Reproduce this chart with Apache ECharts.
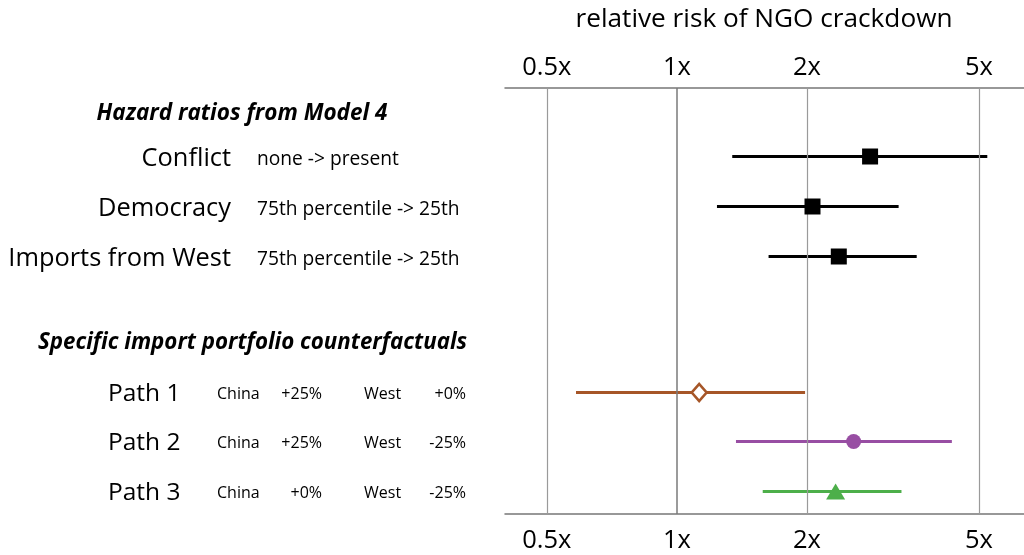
<!DOCTYPE html>
<html>
<head>
<meta charset="utf-8">
<script src="https://cdn.jsdelivr.net/npm/echarts@6/dist/echarts.min.js"></script>
<style>
html,body{margin:0;padding:0;background:#fff;}
#chart{width:1024px;height:555px;}
</style>
</head>
<body>
<div id="chart"></div>
<script>
// ---- data ----
const hazardLabels = ['Conflict', 'Democracy', 'Imports from West'];
const hazardDesc = ['none -> present', '75th percentile -> 25th', '75th percentile -> 25th'];
const hazardEst = [2.80, 2.06, 2.37];
const hazardLo = [1.343, 1.238, 1.63];
const hazardHi = [5.23, 3.26, 3.59];

const pathLabels = ['Path 1', 'Path 2', 'Path 3'];
const chinaChange = ['+25%', '+25%', '+0%'];
const westChange = ['+0%', '-25%', '-25%'];
const pathEst = [1.126, 2.565, 2.33];
const pathLo = [0.584, 1.37, 1.58];
const pathHi = [1.98, 4.33, 3.31];

const tickValues = [0.5, 1, 2, 5];
const axisTitle = 'relative risk of NGO crackdown';
const header1 = 'Hazard ratios from Model 4';
const header2 = 'Specific import portfolio counterfactuals';

// ---- layout (not data) ----
const hazardRows = [1.37, 2.37, 3.37];
const pathRows = [6.09, 7.07, 8.07];
const pathColors = ['#A65628', '#984EA3', '#4DAF4A'];
const FONT = 'Open Sans';

const chart = echarts.init(document.getElementById('chart'));

const series = [];
// gridlines via markLine
series.push({
  type: 'line', data: [], z: 0, silent: true,
  markLine: {
    silent: true, symbol: 'none', label: {show: false},
    data: tickValues.map(v => ({xAxis: v, lineStyle: {color: v === 1 ? '#7a7a7a' : '#9a9a9a', width: v === 1 ? 1.5 : 1.2, type: 'solid'}}))
  }
});
hazardLabels.forEach((n, i) => {
  series.push({
    type: 'line', z: 3, silent: true, symbol: 'none',
    lineStyle: {color: '#000', width: 3},
    data: [[hazardLo[i], hazardRows[i]], [hazardHi[i], hazardRows[i]]]
  });
  series.push({
    type: 'scatter', z: 5, silent: true, symbol: 'rect', symbolSize: 16,
    itemStyle: {color: '#000', opacity: 1},
    data: [[hazardEst[i], hazardRows[i]]]
  });
});
const pathSymbols = ['diamond', 'circle', 'triangle'];
const pathSizes = [[15, 17], 15, [19, 16]];
pathLabels.forEach((n, i) => {
  series.push({
    type: 'line', z: 3, silent: true, symbol: 'none',
    lineStyle: {color: pathColors[i], width: 3},
    data: [[pathLo[i], pathRows[i]], [pathHi[i], pathRows[i]]]
  });
  const item = i === 0
    ? {color: '#fff', borderColor: pathColors[i], borderWidth: 2.5, opacity: 1}
    : {color: pathColors[i], opacity: 1};
  series.push({
    type: 'scatter', z: 5, silent: true, symbol: pathSymbols[i], symbolSize: pathSizes[i],
    itemStyle: item,
    data: [[pathEst[i], pathRows[i]]]
  });
});

const xCommon = {
  type: 'log', logBase: 10, min: 0.4, max: 6.36,
  axisLine: {show: true, lineStyle: {color: '#777', width: 1.5}},
  axisTick: {show: false},
  splitLine: {show: false},
  axisLabel: {
    customValues: tickValues, fontFamily: FONT, fontSize: 25.5, color: '#000',
    formatter: v => v + 'x'
  }
};

chart.setOption({
  animation: false,
  backgroundColor: '#fff',
  grid: {left: 505, right: 0, top: 88, bottom: 41, containLabel: false},
  xAxis: [
    Object.assign({}, xCommon, {position: 'top', axisLabel: Object.assign({}, xCommon.axisLabel, {margin: 7})}),
    Object.assign({}, xCommon, {position: 'bottom', axisLabel: Object.assign({}, xCommon.axisLabel, {margin: 14})})
  ],
  yAxis: {type: 'value', inverse: true, min: 0, max: 8.52, show: false},
  series: series
});

// ---- text annotations positioned from the y scale ----
const yPix = v => chart.convertToPixel({yAxisIndex: 0}, v);
const gText = (text, x, y, opt) => ({
  type: 'text', x: x, y: y, silent: true,
  style: Object.assign({text: text, fontFamily: FONT, fontSize: 24, fill: '#000', textVerticalAlign: 'middle', verticalAlign: 'middle'}, opt)
});
const els = [];
els.push(gText(axisTitle, 764, 20, {align: 'center', fontSize: 26.2}));
els.push(gText(header1, 242, 114, {align: 'center', fontSize: 22.5, fontWeight: 'bold', fontStyle: 'italic'}));
els.push(gText(header2, 252.5, 343, {align: 'center', fontSize: 22.3, fontWeight: 'bold', fontStyle: 'italic'}));
hazardLabels.forEach((n, i) => {
  const y = yPix(hazardRows[i]);
  els.push(gText(n, 231, y + 2, {align: 'right', fontSize: 25.4}));
  els.push(gText(hazardDesc[i], 257, y + 3, {align: 'left', fontSize: 19.2}));
});
pathLabels.forEach((n, i) => {
  const y = yPix(pathRows[i]);
  els.push(gText(n, 108, y + 2, {align: 'left', fontSize: 24.5}));
  els.push(gText('China', 217, y + 2, {align: 'left', fontSize: 16}));
  els.push(gText(chinaChange[i], 322, y + 2, {align: 'right', fontSize: 16}));
  els.push(gText('West', 364, y + 2, {align: 'left', fontSize: 16}));
  els.push(gText(westChange[i], 466, y + 2, {align: 'right', fontSize: 16}));
});
chart.setOption({graphic: {elements: els}});
</script>
</body>
</html>
